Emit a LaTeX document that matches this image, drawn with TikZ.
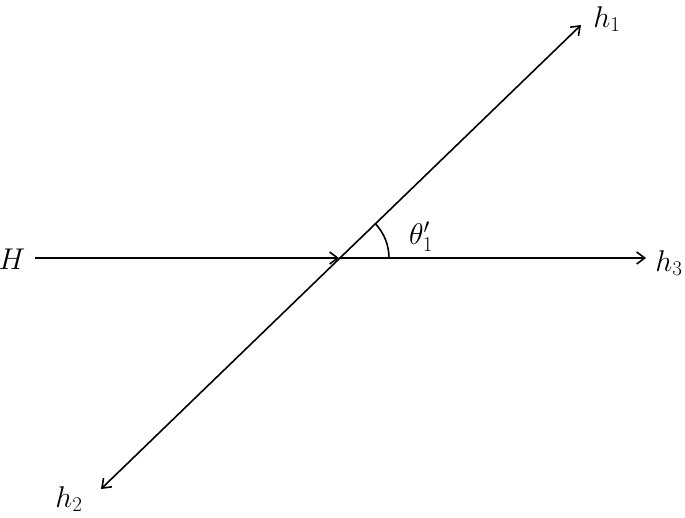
\documentclass[tikz,border=0pt]{standalone}
\usepackage{fix-cm}
\usetikzlibrary{arrows.meta}
\begin{document}
\begin{tikzpicture}[x=1pt,y=-1pt,
  ln/.style={line width=1.6pt},
  tipend/.style={-{Straight Barb[length=8pt,width=12pt,line width=1.6pt]}},
  tipboth/.style={{Straight Barb[length=8pt,width=12pt,line width=1.6pt]}-{Straight Barb[length=8pt,width=12pt,line width=1.6pt]}},
  lab/.style={inner sep=0pt,font=\fontsize{30}{34}\selectfont}]
\useasboundingbox (0,0) rectangle (685,517);
\coordinate (O) at (339,258);
\coordinate (Hs) at (35,258);
\coordinate (h3e) at (646,258);
\coordinate (h1e) at (581,25);
\coordinate (h2e) at (101,489);
\node[lab] (H) at (12,259) {$H$};
\node[lab] (h1) at (607,19) {$h_1$};
\node[lab] (h2) at (69,499) {$h_2$};
\node[lab] (h3) at (669,263) {$h_3$};
\node[lab] (th) at (421,237) {$\theta_1^{\prime}$};
\draw[ln,tipend] (Hs) -- (O);
\draw[ln,tipend] (O) -- (h3e);
\draw[ln,tipboth] (h2e) -- (h1e);
\draw[ln] ([shift={(50,0)}]O) arc[start angle=0,end angle=-44,radius=50];
\end{tikzpicture}
\end{document}
